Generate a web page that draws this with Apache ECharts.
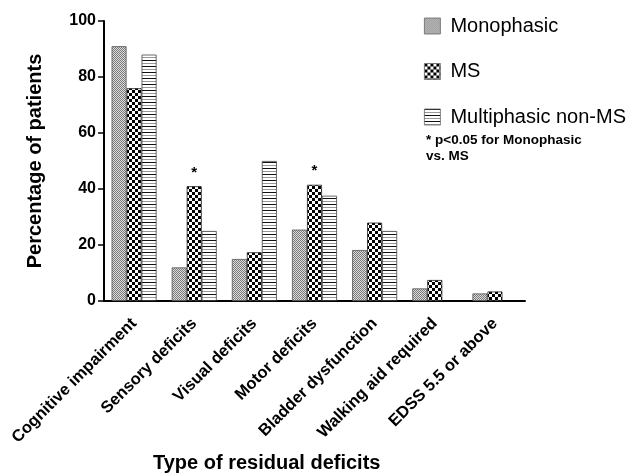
<!DOCTYPE html>
<html>
<head>
<meta charset="utf-8">
<script src="https://cdn.jsdelivr.net/npm/echarts@6/dist/echarts.min.js"></script>
<style>html,body{margin:0;padding:0;background:#fff}#c{width:633px;height:476px}</style>
</head>
<body>
<div id="c"></div>
<script>
const categories = ['Cognitive impairment', 'Sensory deficits', 'Visual deficits', 'Motor deficits', 'Bladder dysfunction', 'Walking aid required', 'EDSS 5.5 or above'];
const seriesNames = ['Monophasic', 'MS', 'Multiphasic non-MS'];
const monophasic = [91, 12, 15, 25.5, 18.2, 4.5, 2.7];
const ms = [76, 41, 17.4, 41.5, 28, 7.5, 3.4];
const multiphasic = [88, 25, 50, 37.6, 25, null, null];
const significance = ['', '*', '', '*', '', '', ''];
const yTicks = [0, 20, 40, 60, 80, 100];

function makeTile(size, draw) {
  const c = document.createElement('canvas');
  c.width = size; c.height = size;
  const g = c.getContext('2d');
  draw(g, size);
  return c;
}
const patMono = makeTile(4, (g) => {
  g.fillStyle = '#dcdcdc'; g.fillRect(0, 0, 4, 4);
  g.fillStyle = '#7a7a7a';
  for (let y = 0; y < 4; y++) for (let x = 0; x < 4; x++) if ((x + y) % 2 === 0) g.fillRect(x, y, 1, 1);
});
const patMS = makeTile(6, (g) => {
  g.fillStyle = '#ffffff'; g.fillRect(0, 0, 6, 6);
  g.fillStyle = '#000000'; g.fillRect(0, 0, 3, 3); g.fillRect(3, 3, 3, 3);
});
const patMulti = makeTile(6, (g) => {
  g.fillStyle = '#ffffff'; g.fillRect(0, 0, 6, 6);
  g.fillStyle = '#111111'; g.fillRect(0, 0, 6, 1);
  g.fillStyle = '#999999'; g.fillRect(0, 3, 6, 1);
});
const patterns = [patMono, patMS, patMulti];
const borders = ['#555555', '#222222', '#444444'];
const dataSets = [monophasic, ms, multiphasic];

const chart = echarts.init(document.getElementById('c'));
const series = dataSets.map((d, i) => ({
  name: seriesNames[i],
  type: 'bar',
  data: d,
  barWidth: 15,
  barGap: '0%',
  itemStyle: { color: { image: patterns[i], repeat: 'repeat' }, borderColor: borders[i], borderWidth: 0.8 },
  label: i === 1 ? {
    show: true, position: 'top', distance: 6,
    formatter: (p) => significance[p.dataIndex],
    fontSize: 15, fontWeight: 'bold', color: '#000', fontFamily: 'Liberation Sans'
  } : { show: false },
  emphasis: { disabled: true }
}));

chart.setOption({
  animation: false,
  textStyle: { fontFamily: 'Liberation Sans' },
  grid: { left: 104, right: 108, top: 21, bottom: 175 },
  legend: {
    orient: 'vertical', left: 419, top: 11,
    itemWidth: 16, itemHeight: 16, itemGap: 25.5,
    icon: 'rect',
    data: seriesNames,
    textStyle: { fontSize: 20, color: '#000', fontFamily: 'Liberation Sans', padding: [0, 0, 0, 5] },
    itemStyle: { borderColor: '#666', borderWidth: 0.8 },
    selectedMode: false
  },
  xAxis: {
    type: 'category', data: categories,
    axisLine: { lineStyle: { color: '#000', width: 2 } },
    axisTick: { alignWithLabel: true, length: 5, lineStyle: { color: '#000', width: 1.5 } },
    axisLabel: { rotate: 45, fontSize: 16.5, fontWeight: 'bold', color: '#000', margin: 20, interval: 0 }
  },
  yAxis: {
    type: 'value', min: 0, max: 100, interval: 20,
    splitLine: { show: false },
    axisLine: { show: true, lineStyle: { color: '#000', width: 2 } },
    axisTick: { show: true, length: 6, lineStyle: { color: '#000', width: 1.5 } },
    axisLabel: { fontSize: 16, fontWeight: 'bold', color: '#000', margin: 8,
      formatter: (v) => yTicks.includes(v) ? String(v) : '' },
    name: 'Percentage of patients', nameLocation: 'middle', nameGap: 59,
    nameTextStyle: { fontSize: 20, fontWeight: 'bold', color: '#000' }
  },
  graphic: [
    { type: 'text', left: 153, top: 453, style: { text: 'Type of residual deficits', font: 'bold 20px "Liberation Sans"', fill: '#000' } },
    { type: 'text', left: 426, top: 132, style: { text: '* p<0.05 for Monophasic\nvs. MS', font: 'bold 13.5px "Liberation Sans"', fill: '#000', lineHeight: 16 } }
  ],
  series: series
});
</script>
</body>
</html>
